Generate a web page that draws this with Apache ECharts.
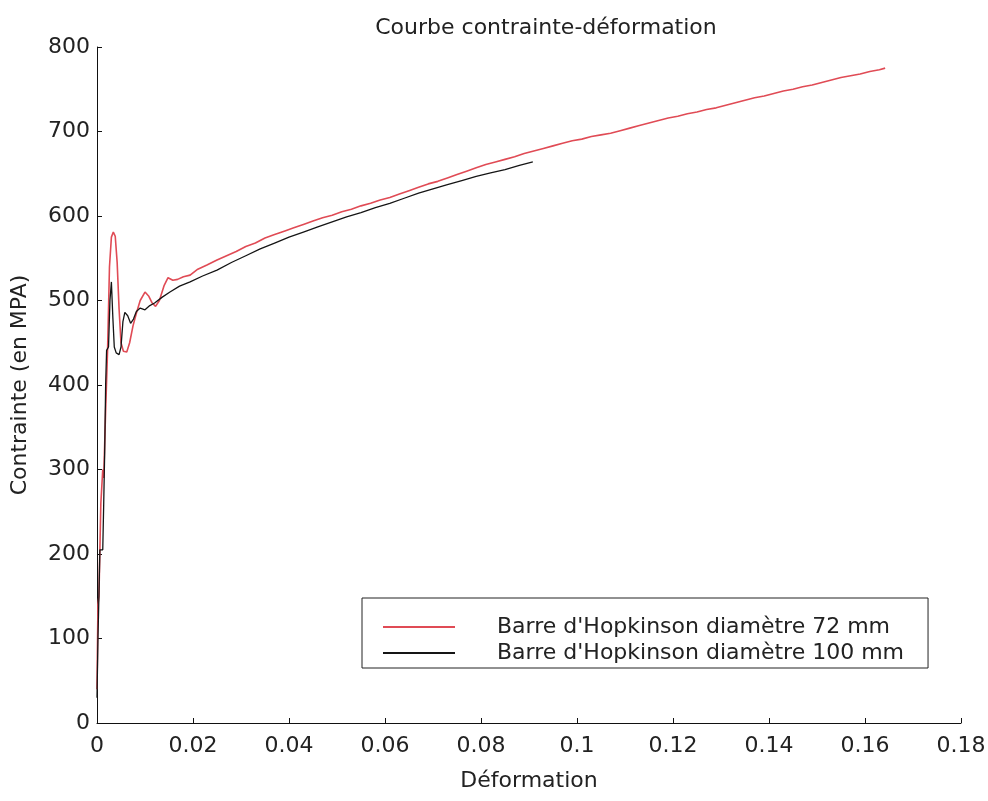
<!DOCTYPE html>
<html>
<head>
<meta charset="utf-8">
<script src="https://cdn.jsdelivr.net/npm/echarts@6/dist/echarts.min.js"></script>
<style>html,body{margin:0;padding:0;background:#fff}#c{width:988px;height:801px}</style>
</head>
<body>
<div id="c"></div>
<script>
const titleText = "Courbe contrainte-déformation";
const xName = "Déformation";
const yName = "Contrainte (en MPA)";
const seriesNames = ["Barre d'Hopkinson diamètre 72 mm", "Barre d'Hopkinson diamètre 100 mm"];
const xTicks = { min: 0, max: 0.18, interval: 0.02 };
const yTicks = { min: 0, max: 800, interval: 100 };

// Barre 72 mm (red): [déformation, contrainte]
const red72 = [
[0.0000,40],[0.0002,140],[0.0004,150],[0.0008,260],[0.0012,300],[0.0014,290],[0.0018,370],[0.0022,441],
[0.0026,540],[0.0030,575],[0.0034,581],[0.0038,576],[0.0042,545],[0.0046,490],[0.0050,450],[0.0055,440],
[0.0062,439],[0.0068,450],[0.0075,470],[0.0082,485],[0.0090,500],[0.0100,510],[0.0108,505],[0.0115,497],
[0.0122,493],[0.0130,500],[0.0140,518],[0.0148,527],[0.0158,524],[0.0168,525],[0.0180,528],[0.0194,530],
[0.0210,537],[0.0229,542],[0.0250,548],[0.0270,553],[0.0290,558],[0.0310,564],[0.0330,568],[0.0350,574],
[0.0370,578],[0.0390,582],[0.0410,586],[0.0430,590],[0.0450,594],[0.0470,598],[0.0490,601],[0.0510,605],
[0.0530,608],[0.0550,612],[0.0570,615],[0.0590,619],[0.0610,622],[0.0630,626],[0.0650,630],[0.0670,634],
[0.0690,638],[0.0710,641],[0.0730,645],[0.0750,649],[0.0770,653],[0.0790,657],[0.0810,661],[0.0830,664],
[0.0850,667],[0.0870,670],[0.0890,674],[0.0910,677],[0.0930,680],[0.0950,683],[0.0970,686],[0.0990,689],
[0.1010,691],[0.1030,694],[0.1050,696],[0.1070,698],[0.1090,701],[0.1110,704],[0.1130,707],[0.1150,710],
[0.1170,713],[0.1190,716],[0.1210,718],[0.1230,721],[0.1250,723],[0.1270,726],[0.1290,728],[0.1310,731],
[0.1330,734],[0.1350,737],[0.1370,740],[0.1390,742],[0.1410,745],[0.1430,748],[0.1450,750],[0.1470,753],
[0.1490,755],[0.1510,758],[0.1530,761],[0.1550,764],[0.1570,766],[0.1590,768],[0.1610,771],[0.1630,773],
[0.1642,775]
];

// Barre 100 mm (black): [déformation, contrainte]
const black100 = [
[0.0000,30],[0.0002,100],[0.0004,150],[0.0006,205],[0.0012,205],[0.0014,260],[0.0016,320],[0.0018,400],
[0.0020,441],[0.0024,445],[0.0027,500],[0.0030,522],[0.0033,480],[0.0036,445],[0.0040,438],[0.0046,436],
[0.0050,445],[0.0054,475],[0.0058,486],[0.0064,482],[0.0070,473],[0.0076,478],[0.0082,487],[0.0090,491],
[0.0100,489],[0.0110,494],[0.0120,497],[0.0136,504],[0.0152,510],[0.0172,517],[0.0194,522],[0.0220,529],
[0.0250,536],[0.0280,545],[0.0310,553],[0.0340,561],[0.0370,568],[0.0400,575],[0.0430,581],[0.0460,587],
[0.0490,593],[0.0520,599],[0.0550,604],[0.0580,610],[0.0610,615],[0.0640,621],[0.0670,627],[0.0700,632],
[0.0730,637],[0.0760,642],[0.0790,647],[0.0820,651],[0.0850,655],[0.0880,660],[0.0908,664]
];

const FONT = "DejaVu Sans";
const chart = echarts.init(document.getElementById('c'), null, { renderer: 'canvas' });
chart.setOption({
  animation: false,
  backgroundColor: '#fff',
  title: {
    text: titleText, left: 541, top: 12, textAlign: 'center',
    textStyle: { fontFamily: FONT, fontSize: 22, fontWeight: 'normal', color: '#222' }
  },
  grid: { left: 97, right: 27, top: 47, bottom: 78, containLabel: false, outerBoundsMode: 'none' },
  legend: {
    orient: 'vertical', left: 362, top: 598,
    data: seriesNames,
    itemWidth: 72, itemHeight: 2, itemGap: 4,
    padding: [18, 24, 4, 21],
    borderColor: '#222', borderWidth: 1, backgroundColor: '#fff',
    textStyle: { fontFamily: FONT, fontSize: 22, color: '#222', padding: [0, 0, 0, 37] },
    icon: 'rect'
  },
  xAxis: {
    type: 'value', min: xTicks.min, max: xTicks.max, interval: xTicks.interval,
    name: xName, nameLocation: 'middle', nameGap: 47,
    nameTextStyle: { fontFamily: FONT, fontSize: 22, color: '#222' },
    axisLine: { lineStyle: { color: '#111', width: 1 } },
    axisTick: { inside: true, length: 5, lineStyle: { color: '#111' } },
    axisLabel: { fontFamily: FONT, fontSize: 22, color: '#222', margin: 12,
      formatter: v => String(+v.toFixed(2)) },
    splitLine: { show: false }
  },
  yAxis: {
    type: 'value', min: yTicks.min, max: yTicks.max, interval: yTicks.interval,
    name: yName, nameLocation: 'middle', nameGap: 66,
    nameTextStyle: { fontFamily: FONT, fontSize: 22, color: '#222' },
    axisLine: { show: true, lineStyle: { color: '#111', width: 1 } },
    axisTick: { show: true, inside: true, length: 5, lineStyle: { color: '#111' } },
    axisLabel: { fontFamily: FONT, fontSize: 22, color: '#222', margin: 7 },
    splitLine: { show: false }
  },
  series: [
    { name: seriesNames[0], type: 'line', data: red72, showSymbol: false, symbol: 'none',
      lineStyle: { color: '#e04b55', width: 1.6 }, itemStyle: { color: '#e04b55' }, z: 2 },
    { name: seriesNames[1], type: 'line', data: black100, showSymbol: false, symbol: 'none',
      lineStyle: { color: '#151515', width: 1.3 }, itemStyle: { color: '#151515' }, z: 3 }
  ]
});
</script>
</body>
</html>
